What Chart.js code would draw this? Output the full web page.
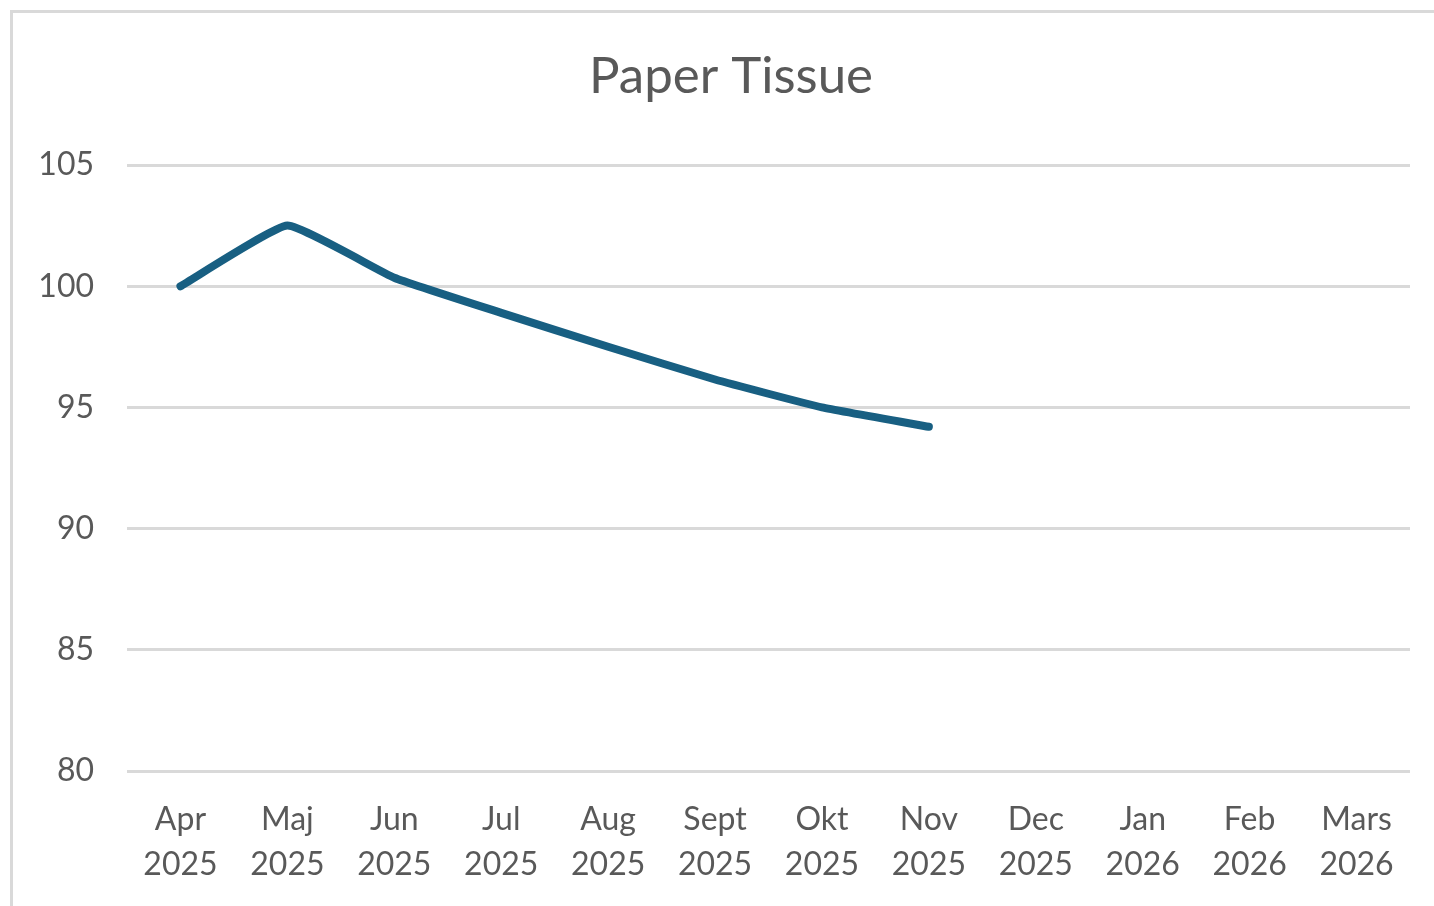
<!DOCTYPE html>
<html lang="sv">
<head>
    <meta charset="UTF-8">
    <title>Paper Tissue</title>
    <script src="https://cdn.jsdelivr.net/npm/chart.js"></script>
    <style>
        html, body {
            margin: 0;
            padding: 0;
            background: #ffffff;
            overflow: hidden;
        }
        .frame {
            position: absolute;
            left: 10px;
            top: 10px;
            width: 1600px;
            height: 1100px;
            border: 3px solid #d9d9d9;
        }
        .chart-box {
            position: absolute;
            left: 0;
            top: 0;
            width: 1434px;
            height: 906px;
        }
    </style>
</head>
<body>
    <div class="frame"></div>
    <div class="chart-box">
        <canvas id="myChart" width="1434" height="906"></canvas>
    </div>

    <script>
        // chart data
        var chartTitle = 'Paper Tissue';
        var months = [
            ['Apr', '2025'], ['Maj', '2025'], ['Jun', '2025'], ['Jul', '2025'],
            ['Aug', '2025'], ['Sept', '2025'], ['Okt', '2025'], ['Nov', '2025'],
            ['Dec', '2025'], ['Jan', '2026'], ['Feb', '2026'], ['Mars', '2026']
        ];
        var tissueIndex = [100, 102.5, 100.35, 98.9, 97.5, 96.15, 95.0, 94.2, null, null, null, null];
        var yTicks = [80, 85, 90, 95, 100, 105];

        var textColor = '#595959';
        var gridColor = '#d9d9d9';
        var fontFamily = 'Lato, "Open Sans", sans-serif';

        // title centred on the whole chart box (it runs past the window on the right)
        var titlePlugin = {
            id: 'boxTitle',
            afterDraw: function(chart) {
                var c = chart.ctx;
                c.save();
                c.font = 'normal 51px ' + fontFamily;
                c.fillStyle = textColor;
                c.textAlign = 'center';
                c.textBaseline = 'middle';
                c.fillText(chartTitle, 731, 77);
                c.restore();
            }
        };

        var ctx = document.getElementById('myChart').getContext('2d');
        var myChart = new Chart(ctx, {
            type: 'line',
            data: {
                labels: months,
                datasets: [{
                    label: chartTitle,
                    data: tissueIndex,
                    borderColor: '#185f82',
                    borderWidth: 8,
                    borderCapStyle: 'round',
                    borderJoinStyle: 'round',
                    tension: 0.12,
                    pointRadius: 0,
                    fill: false,
                    spanGaps: false
                }]
            },
            plugins: [titlePlugin],
            options: {
                responsive: false,
                animation: false,
                layout: {
                    padding: { left: 0, right: 24, top: 165, bottom: 20 }
                },
                plugins: {
                    legend: { display: false },
                    tooltip: { enabled: false },
                    title: { display: false }
                },
                scales: {
                    x: {
                        offset: true,
                        afterFit: function(scale) { scale.height = 115; },
                        grid: { display: false, drawTicks: false },
                        border: { display: false },
                        ticks: {
                            color: textColor,
                            font: { family: fontFamily, size: 32, lineHeight: 1.4 },
                            padding: 26,
                            maxRotation: 0,
                            autoSkip: false
                        }
                    },
                    y: {
                        min: 80,
                        max: 105,
                        afterFit: function(scale) { scale.width = 127; },
                        afterBuildTicks: function(scale) {
                            scale.ticks = yTicks.map(function(v) { return { value: v }; });
                        },
                        grid: { color: gridColor, lineWidth: 3, drawTicks: false },
                        border: { display: false },
                        ticks: {
                            color: textColor,
                            font: { family: fontFamily, size: 32 },
                            padding: 33
                        }
                    }
                }
            }
        });
    </script>
</body>
</html>
